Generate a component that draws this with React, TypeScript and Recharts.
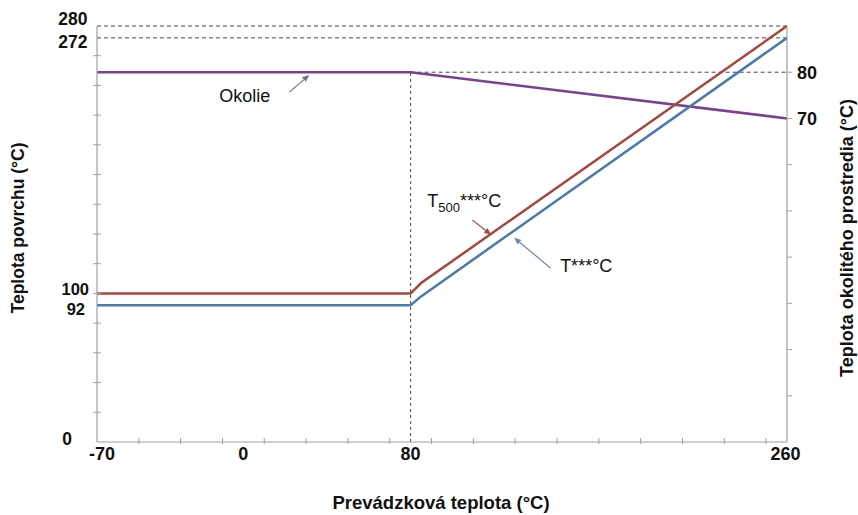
import React from 'react';
import { LineChart, Line, XAxis, YAxis, ReferenceLine, ReferenceDot, Customized } from 'recharts';

// Operating temperature (x) breakpoints and surface temperatures
const opTemp = [-70, 80, 85, 260];
const surfaceT = [92, 92, 98, 272];
const surfaceT500 = [100, 100, 107, 280];
// Ambient temperature (right axis)
const ambientX = [-70, 80, 260];
const ambientT = [80, 80, 70];

// Ticks
const xMinorTicks = [-50, -30, -10, 10, 30, 50, 70, 90, 110, 130, 150, 170, 190, 210, 230, 250];
const xLabelTicks = [-70, 0, 80, 260];
const yLeftMinorTicks = [20, 40, 60, 80, 100, 120, 140, 160, 180, 200, 220, 240, 260];
const yLeftLabelTicks = [0, 92, 100, 272, 280];
const yRightTicks = [0, 10, 20, 30, 40, 50, 60, 70, 80];
const yRightLabelTicks = [70, 80];

// Annotations (data coordinates on the left axis)
const annotationTexts = [
  { key: 'okolie', x: -11.5, y: 229, text: 'Okolie', sub: '', rest: '' },
  { key: 't500', x: 88, y: 158.5, text: 'T', sub: '500', rest: '***°C' },
  { key: 't', x: 151.5, y: 114.5, text: 'T***°C', sub: '', rest: '' },
];
const annotationArrows = [
  { key: 'a1', x1: 22, y1: 235.5, x2: 31.5, y2: 247, color: '#7a6a8a' },
  { key: 'a2', x1: 109.5, y1: 149.5, x2: 118.5, y2: 139.5, color: '#a04a45' },
  { key: 'a3', x1: 147, y1: 117, x2: 129.5, y2: 137.5, color: '#6f88a8' },
];

const FONT = '"Liberation Sans", Arial, Helvetica, sans-serif';
const RED = '#a5473f';
const BLUE = '#4a79ad';
const PURPLE = '#7a4190';
const AXIS = '#a0a0a0';
const DASH = '#333333';

const t500Data = opTemp.map((x, i) => ({ x, y: surfaceT500[i] }));
const tData = opTemp.map((x, i) => ({ x, y: surfaceT[i] }));
const ambData = ambientX.map((x, i) => ({ x, y: ambientT[i] }));

const xTicks = [...xLabelTicks, ...xMinorTicks].sort((a, b) => a - b);
const yLeftTicks = Array.from(new Set([...yLeftLabelTicks, ...yLeftMinorTicks])).sort((a, b) => a - b);

const xLabelDx: Record<number, number> = { [-70]: 5, 0: 0, 80: 0, 260: -1.5 };
const leftLabelPos: Record<number, { dx: number; dy: number; fs: number }> = {
  0: { dx: -25, dy: -3, fs: 17.5 },
  92: { dx: -12, dy: 4, fs: 16.5 },
  100: { dx: -8, dy: -4, fs: 16.5 },
  272: { dx: -9.5, dy: 4, fs: 17.5 },
  280: { dx: -9.5, dy: -7, fs: 17.5 },
};

const XTick = (props: any) => {
  const { x, y, payload } = props;
  const v = payload.value;
  const isLabel = xLabelTicks.includes(v);
  const isMinor = xMinorTicks.includes(v);
  return (
    <g>
      {isMinor && <line x1={x} x2={x} y1={y - 4} y2={y + 2} stroke={AXIS} strokeWidth={1} />}
      {isLabel && (
        <text x={x + (xLabelDx[v] ?? 0)} y={y + 18} textAnchor="middle" fontFamily={FONT} fontWeight="bold" fontSize={18} fill="#111">
          {v}
        </text>
      )}
    </g>
  );
};

const LeftTick = (props: any) => {
  const { x, y, payload } = props;
  const v = payload.value;
  const isLabel = yLeftLabelTicks.includes(v);
  const isMinor = yLeftMinorTicks.includes(v);
  const pos = leftLabelPos[v];
  return (
    <g>
      {isMinor && <line x1={x - 4} x2={x + 4} y1={y} y2={y} stroke={AXIS} strokeWidth={1} />}
      {isLabel && pos && (
        <text x={x + pos.dx} y={y + pos.dy} textAnchor="end" dominantBaseline="central" fontFamily={FONT} fontWeight="bold" fontSize={pos.fs} fill="#111">
          {v}
        </text>
      )}
    </g>
  );
};

const RightTick = (props: any) => {
  const { x, y, payload } = props;
  const v = payload.value;
  const isLabel = yRightLabelTicks.includes(v);
  return (
    <g>
      {v !== 0 && <line x1={x} x2={x + 5} y1={y} y2={y} stroke={AXIS} strokeWidth={1} />}
      {isLabel && (
        <text x={x + 10} y={y + 1} textAnchor="start" dominantBaseline="central" fontFamily={FONT} fontWeight="bold" fontSize={18} fill="#111">
          {v}
        </text>
      )}
    </g>
  );
};

const Titles = () => (
  <g fontFamily={FONT} fontWeight="bold" fill="#111">
    <text x={441} y={509} textAnchor="middle" fontSize={18.5}>
      Prevádzková teplota (°C)
    </text>
    <text transform="translate(24,228) rotate(-90)" textAnchor="middle" fontSize={17.5}>
      Teplota povrchu (°C)
    </text>
    <text transform="translate(853,238) rotate(-90)" textAnchor="middle" fontSize={18}>
      Teplota okolitého prostredia (°C)
    </text>
  </g>
);

const makeArrow = (color: string) => (props: any) => {
  const { x1, y1, x2, y2 } = props;
  if ([x1, y1, x2, y2].some((v) => typeof v !== 'number' || isNaN(v))) return <g />;
  const ang = Math.atan2(y2 - y1, x2 - x1);
  const len = 7;
  const w = 3;
  const bx = x2 - len * Math.cos(ang);
  const by = y2 - len * Math.sin(ang);
  const px = -Math.sin(ang) * w;
  const py = Math.cos(ang) * w;
  return (
    <g>
      <line x1={x1} y1={y1} x2={bx} y2={by} stroke={color} strokeWidth={1.2} />
      <polygon points={`${x2},${y2} ${bx + px},${by + py} ${bx - px},${by - py}`} fill={color} />
    </g>
  );
};

const makeText = (a: { text: string; sub: string; rest: string }) => (props: any) => {
  const { cx, cy } = props;
  return (
    <text x={cx} y={cy} fontFamily={FONT} fontSize={18} fill="#111" textAnchor="start">
      <tspan>{a.text}</tspan>
      {a.sub && (
        <tspan fontSize={13} dy={5}>
          {a.sub}
        </tspan>
      )}
      {a.rest && <tspan dy={a.sub ? -5 : 0}>{a.rest}</tspan>}
    </text>
  );
};

export default function App() {
  return (
    <div style={{ position: 'absolute', left: 0, top: 0, background: '#fff' }}>
      <LineChart width={858} height={515} margin={{ top: 26, right: 0, bottom: 0, left: 0 }}>
        <XAxis
          type="number"
          dataKey="x"
          domain={[-70, 260]}
          ticks={xTicks}
          interval={0}
          allowDataOverflow
          height={73}
          tickLine={false}
          tickSize={0}
          tickMargin={0}
          axisLine={{ stroke: AXIS, strokeWidth: 1.2 }}
          tick={<XTick />}
        />
        <YAxis
          yAxisId="left"
          type="number"
          domain={[0, 280]}
          ticks={yLeftTicks}
          interval={0}
          width={97}
          tickLine={false}
          tickSize={0}
          tickMargin={0}
          axisLine={{ stroke: AXIS, strokeWidth: 1.2 }}
          tick={<LeftTick />}
        />
        <YAxis
          yAxisId="right"
          orientation="right"
          type="number"
          domain={[0, 90]}
          ticks={yRightTicks}
          interval={0}
          width={71}
          tickLine={false}
          tickSize={0}
          tickMargin={0}
          axisLine={{ stroke: AXIS, strokeWidth: 1.2 }}
          tick={<RightTick />}
        />
        <ReferenceLine yAxisId="left" y={280} stroke={DASH} strokeDasharray="4 3" strokeWidth={0.9} />
        <ReferenceLine yAxisId="left" y={272} stroke={DASH} strokeDasharray="4 3" strokeWidth={0.9} />
        <ReferenceLine
          yAxisId="right"
          segment={[{ x: 80, y: 80 }, { x: 260, y: 80 }]}
          stroke={DASH}
          strokeDasharray="4 3"
          strokeWidth={0.9}
        />
        <ReferenceLine
          yAxisId="right"
          segment={[{ x: 80, y: 0 }, { x: 80, y: 80 }]}
          stroke={DASH}
          strokeDasharray="3 3"
          strokeWidth={0.9}
        />
        <Line yAxisId="right" data={ambData} dataKey="y" stroke={PURPLE} strokeWidth={2.5} dot={false} isAnimationActive={false} type="linear" />
        <Line yAxisId="left" data={t500Data} dataKey="y" stroke={RED} strokeWidth={2.5} dot={false} isAnimationActive={false} type="linear" />
        <Line yAxisId="left" data={tData} dataKey="y" stroke={BLUE} strokeWidth={2.5} dot={false} isAnimationActive={false} type="linear" />
        {annotationArrows.map((a) => (
          <ReferenceLine
            key={a.key}
            yAxisId="left"
            segment={[{ x: a.x1, y: a.y1 }, { x: a.x2, y: a.y2 }]}
            stroke={a.color}
            shape={makeArrow(a.color)}
          />
        ))}
        {annotationTexts.map((a) => (
          <ReferenceDot key={a.key} yAxisId="left" x={a.x} y={a.y} r={0} shape={makeText(a)} />
        ))}
        <Customized component={<Titles />} />
      </LineChart>
    </div>
  );
}
